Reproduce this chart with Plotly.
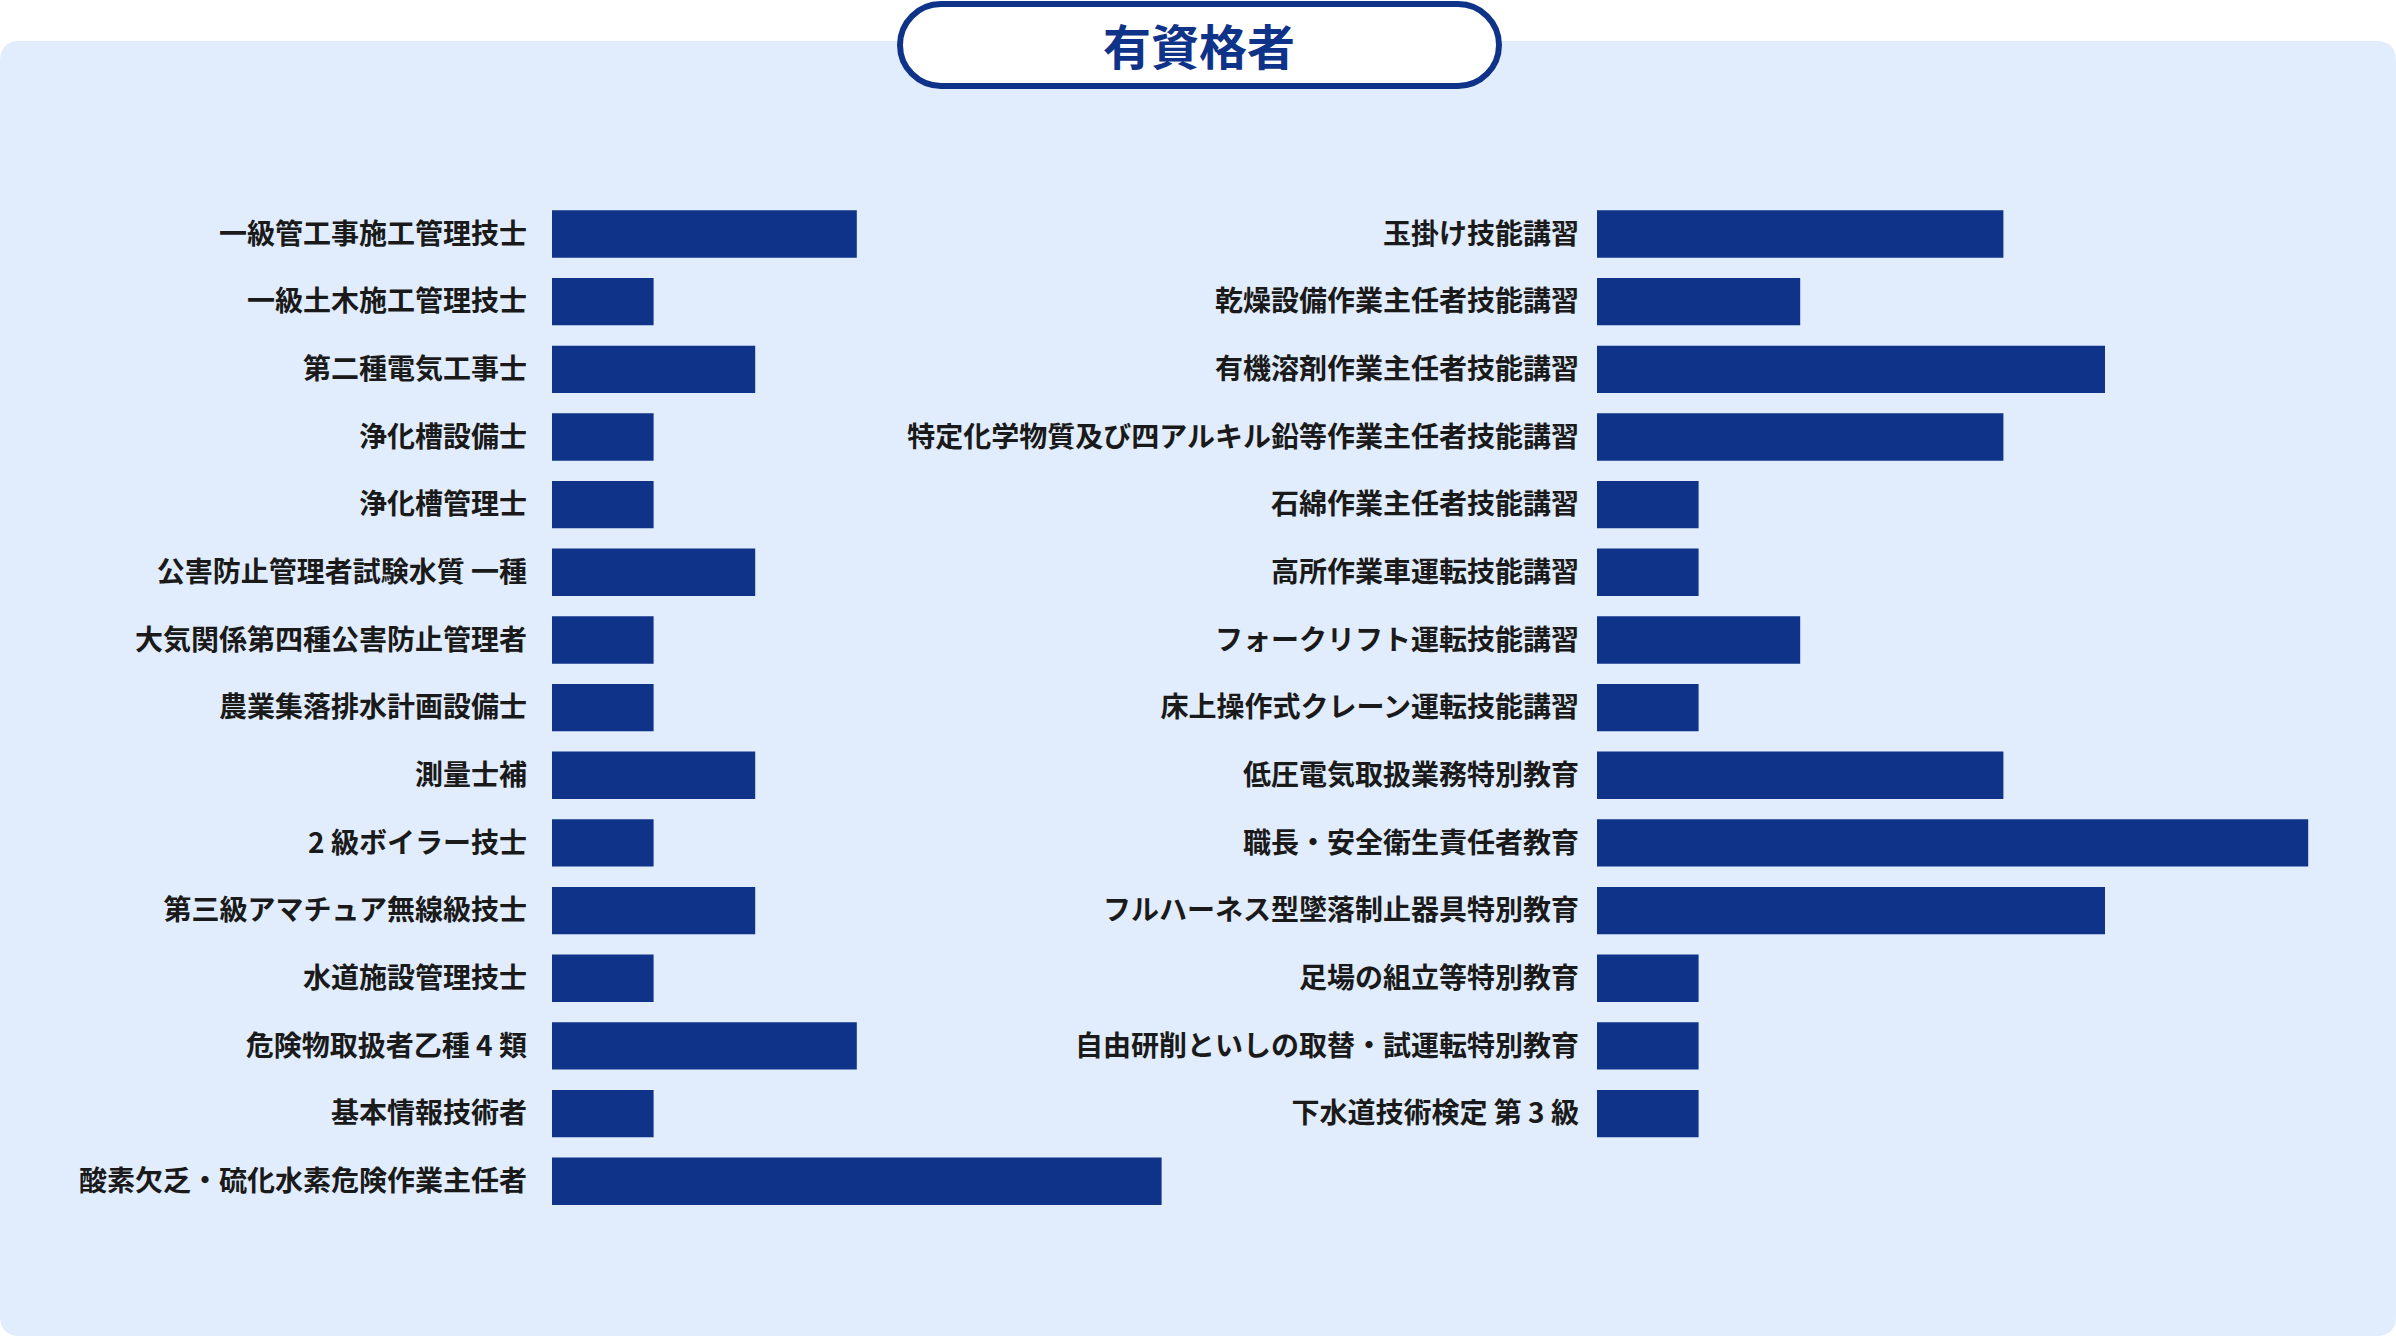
import plotly.graph_objects as go

W, H = 2396, 1336

title_text = "有資格者"

left_labels = [
    "一級管工事施工管理技士",
    "一級土木施工管理技士",
    "第二種電気工事士",
    "浄化槽設備士",
    "浄化槽管理士",
    "公害防止管理者試験水質 一種",
    "大気関係第四種公害防止管理者",
    "農業集落排水計画設備士",
    "測量士補",
    "2 級ボイラー技士",
    "第三級アマチュア無線級技士",
    "水道施設管理技士",
    "危険物取扱者乙種 4 類",
    "基本情報技術者",
    "酸素欠乏・硫化水素危険作業主任者",
]
left_values = [3, 1, 2, 1, 1, 2, 1, 1, 2, 1, 2, 1, 3, 1, 6]

right_labels = [
    "玉掛け技能講習",
    "乾燥設備作業主任者技能講習",
    "有機溶剤作業主任者技能講習",
    "特定化学物質及び四アルキル鉛等作業主任者技能講習",
    "石綿作業主任者技能講習",
    "高所作業車運転技能講習",
    "フォークリフト運転技能講習",
    "床上操作式クレーン運転技能講習",
    "低圧電気取扱業務特別教育",
    "職長・安全衛生責任者教育",
    "フルハーネス型墜落制止器具特別教育",
    "足場の組立等特別教育",
    "自由研削といしの取替・試運転特別教育",
    "下水道技術検定 第 3 級",
]
right_values = [4, 2, 5, 4, 1, 1, 2, 1, 4, 7, 5, 1, 1, 1]

BAR = "#0e3389"
BG = "#e1edfd"
NAVY = "#0e3389"
FONT = "Noto Sans CJK JP"

unit = 101.6          # px per unit
pitch = 67.66         # px per row
first_row_y = 234.0   # px from top
lx0, rx0 = 552.0, 1597.0

ytop = -first_row_y / pitch
ybot = ytop + H / pitch

fig = go.Figure()
fig.add_trace(go.Bar(x=left_values, y=left_labels, orientation="h",
                     marker=dict(color=BAR, line=dict(width=0)), width=0.7,
                     xaxis="x", yaxis="y", hoverinfo="x+y"))
fig.add_trace(go.Bar(x=right_values, y=right_labels, orientation="h",
                     marker=dict(color=BAR, line=dict(width=0)), width=0.7,
                     xaxis="x2", yaxis="y2", hoverinfo="x+y"))

lrange = 7.0
rrange = 7.5
ax_common = dict(showgrid=False, zeroline=False, showline=False, showticklabels=False, ticks="")
fig.update_layout(
    width=W, height=H,
    margin=dict(l=0, r=0, t=0, b=0),
    paper_bgcolor="white", plot_bgcolor="rgba(0,0,0,0)",
    showlegend=False,
    bargap=0.3,
    font=dict(family=FONT, color="#1a1a1a", size=28),
    xaxis=dict(domain=[lx0 / W, (lx0 + lrange * unit) / W], range=[0, lrange], **ax_common),
    xaxis2=dict(domain=[rx0 / W, (rx0 + rrange * unit) / W], range=[0, rrange], **ax_common),
    yaxis=dict(domain=[0, 1], anchor="x", type="category", categoryorder="array",
               categoryarray=left_labels, range=[ybot, ytop],
               showgrid=False, zeroline=False, showline=False, ticks="",
               ticklabelstandoff=24,
               tickfont=dict(family=FONT, size=28, color="#1a1a1a", weight="bold")),
    yaxis2=dict(domain=[0, 1], anchor="x2", type="category", categoryorder="array",
                categoryarray=right_labels, range=[ybot, ytop],
                showgrid=False, zeroline=False, showline=False, ticks="",
                ticklabelstandoff=17,
                tickfont=dict(family=FONT, size=28, color="#1a1a1a", weight="bold")),
)


def rounded_path(x0, y0, x1, y1, r):
    def P(x, y):
        return f"{x / W:.6f},{1 - y / H:.6f}"
    return (f"M {P(x0 + r, y0)} L {P(x1 - r, y0)} Q {P(x1, y0)} {P(x1, y0 + r)} "
            f"L {P(x1, y1 - r)} Q {P(x1, y1)} {P(x1 - r, y1)} "
            f"L {P(x0 + r, y1)} Q {P(x0, y1)} {P(x0, y1 - r)} "
            f"L {P(x0, y0 + r)} Q {P(x0, y0)} {P(x0 + r, y0)} Z")


def pill_path(x0, y0, x1, y1):
    r = (y1 - y0) / 2
    k = 0.5523 * r
    def P(x, y):
        return f"{x / W:.6f},{1 - y / H:.6f}"
    return (f"M {P(x0 + r, y0)} L {P(x1 - r, y0)} "
            f"C {P(x1 - r + k, y0)} {P(x1, y0 + r - k)} {P(x1, y0 + r)} "
            f"C {P(x1, y0 + r + k)} {P(x1 - r + k, y1)} {P(x1 - r, y1)} "
            f"L {P(x0 + r, y1)} "
            f"C {P(x0 + r - k, y1)} {P(x0, y0 + r + k)} {P(x0, y0 + r)} "
            f"C {P(x0, y0 + r - k)} {P(x0 + r - k, y0)} {P(x0 + r, y0)} Z")


fig.add_shape(type="path", xref="paper", yref="paper", layer="below",
              path=rounded_path(0, 41, W, H, 20), fillcolor=BG, line=dict(width=0))
fig.add_shape(type="path", xref="paper", yref="paper", layer="above",
              path=pill_path(900, 4, 1499, 86), fillcolor="white",
              line=dict(color=NAVY, width=6))
fig.add_annotation(x=1199 / W, y=1 - 44 / H, xref="paper", yref="paper",
                   text=title_text, showarrow=False, xanchor="center", yanchor="middle",
                   font=dict(family=FONT, size=48, color=NAVY, weight="bold"))

fig.write_html("out.html")
